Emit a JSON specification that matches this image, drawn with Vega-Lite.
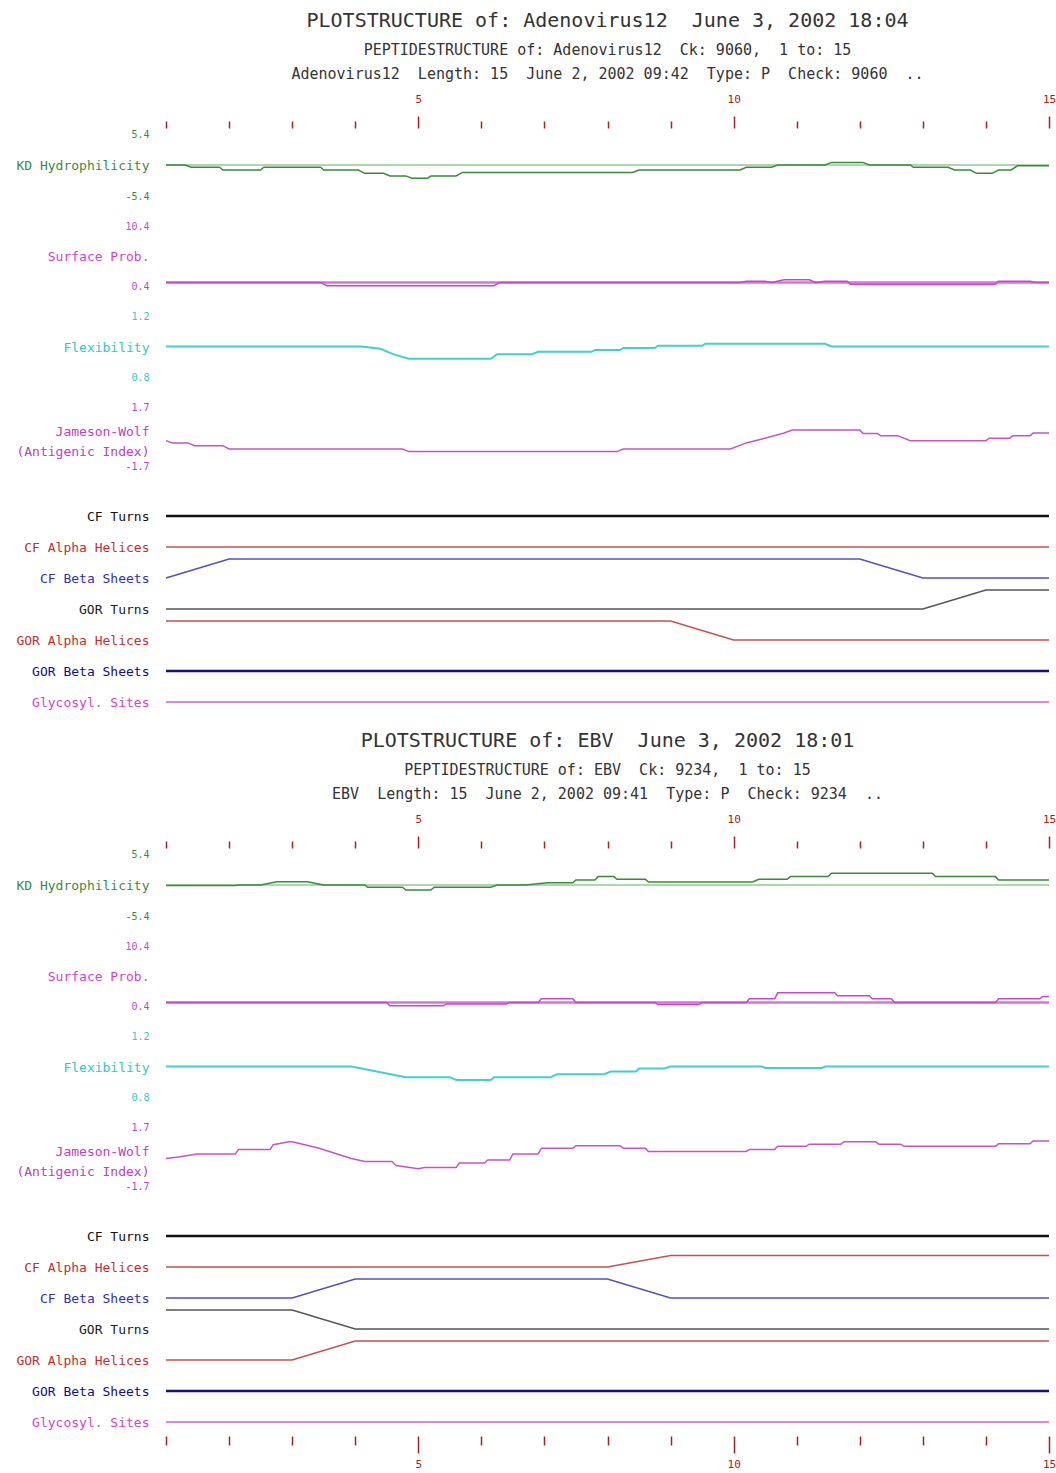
{
"$schema": "https://vega.github.io/schema/vega-lite/v6.json",
"background": "white",
"padding": {"left": 15, "top": 11, "right": 5, "bottom": 0},
"config": {
  "view": {"stroke": null},
  "axis": {"domain": false, "ticks": false, "tickSize": 0, "grid": false, "labelFont": "DejaVu Sans Mono", "titleFont": "DejaVu Sans Mono", "titleFontWeight": "normal", "titleAngle": 0, "titleAlign": "right", "titleBaseline": "middle", "titleX": -17, "labelPadding": 17, "titleFontSize": 13, "labelFontSize": 10, "titleLineHeight": 20},
  "title": {"font": "DejaVu Sans Mono", "fontSize": 20, "fontWeight": "normal", "color": "#333333", "anchor": "middle", "frame": "group", "subtitleFont": "DejaVu Sans Mono", "subtitleFontSize": 15, "subtitleColor": "#333333", "subtitleLineHeight": 24, "subtitlePadding": 12, "offset": 11}
},
"data": {"values": [
{"v":"A","t":"KD","k":"b","p":1,"y":0},{"v":"A","t":"KD","k":"b","p":15,"y":0},
{"v":"A","t":"KD","k":"d","p":1,"y":0},{"v":"A","t":"KD","k":"d","p":1.3,"y":0},{"v":"A","t":"KD","k":"d","p":1.4,"y":-0.4},{"v":"A","t":"KD","k":"d","p":1.85,"y":-0.4},{"v":"A","t":"KD","k":"d","p":1.9,"y":-0.87},{"v":"A","t":"KD","k":"d","p":2.5,"y":-0.87},{"v":"A","t":"KD","k":"d","p":2.55,"y":-0.4},{"v":"A","t":"KD","k":"d","p":3.45,"y":-0.4},{"v":"A","t":"KD","k":"d","p":3.5,"y":-0.87},{"v":"A","t":"KD","k":"d","p":4.05,"y":-0.87},{"v":"A","t":"KD","k":"d","p":4.15,"y":-1.45},{"v":"A","t":"KD","k":"d","p":4.45,"y":-1.45},{"v":"A","t":"KD","k":"d","p":4.55,"y":-1.9},{"v":"A","t":"KD","k":"d","p":4.8,"y":-1.9},{"v":"A","t":"KD","k":"d","p":4.9,"y":-2.3},{"v":"A","t":"KD","k":"d","p":5.15,"y":-2.3},{"v":"A","t":"KD","k":"d","p":5.2,"y":-1.9},{"v":"A","t":"KD","k":"d","p":5.6,"y":-1.9},{"v":"A","t":"KD","k":"d","p":5.7,"y":-1.3},{"v":"A","t":"KD","k":"d","p":8.4,"y":-1.3},{"v":"A","t":"KD","k":"d","p":8.5,"y":-0.87},{"v":"A","t":"KD","k":"d","p":10.1,"y":-0.87},{"v":"A","t":"KD","k":"d","p":10.2,"y":-0.4},{"v":"A","t":"KD","k":"d","p":10.6,"y":-0.4},{"v":"A","t":"KD","k":"d","p":10.7,"y":0},{"v":"A","t":"KD","k":"d","p":11.45,"y":0},{"v":"A","t":"KD","k":"d","p":11.55,"y":0.45},{"v":"A","t":"KD","k":"d","p":12.05,"y":0.45},{"v":"A","t":"KD","k":"d","p":12.15,"y":0},{"v":"A","t":"KD","k":"d","p":12.8,"y":0},{"v":"A","t":"KD","k":"d","p":12.85,"y":-0.4},{"v":"A","t":"KD","k":"d","p":13.4,"y":-0.4},{"v":"A","t":"KD","k":"d","p":13.5,"y":-0.87},{"v":"A","t":"KD","k":"d","p":13.75,"y":-0.87},{"v":"A","t":"KD","k":"d","p":13.85,"y":-1.45},{"v":"A","t":"KD","k":"d","p":14.1,"y":-1.45},{"v":"A","t":"KD","k":"d","p":14.2,"y":-0.87},{"v":"A","t":"KD","k":"d","p":14.4,"y":-0.87},{"v":"A","t":"KD","k":"d","p":14.5,"y":-0.15},{"v":"A","t":"KD","k":"d","p":15,"y":-0.15},
{"v":"A","t":"SP","k":"b","p":1,"y":1},{"v":"A","t":"SP","k":"b","p":15,"y":1},
{"v":"A","t":"SP","k":"d","p":1,"y":1},{"v":"A","t":"SP","k":"d","p":3.45,"y":1},{"v":"A","t":"SP","k":"d","p":3.55,"y":0.45},{"v":"A","t":"SP","k":"d","p":6.2,"y":0.45},{"v":"A","t":"SP","k":"d","p":6.3,"y":1},{"v":"A","t":"SP","k":"d","p":10.1,"y":1},{"v":"A","t":"SP","k":"d","p":10.2,"y":1.2},{"v":"A","t":"SP","k":"d","p":10.5,"y":1.2},{"v":"A","t":"SP","k":"d","p":10.6,"y":1},{"v":"A","t":"SP","k":"d","p":10.8,"y":1.45},{"v":"A","t":"SP","k":"d","p":11.2,"y":1.45},{"v":"A","t":"SP","k":"d","p":11.3,"y":1},{"v":"A","t":"SP","k":"d","p":11.45,"y":1.2},{"v":"A","t":"SP","k":"d","p":11.8,"y":1.2},{"v":"A","t":"SP","k":"d","p":11.85,"y":0.7},{"v":"A","t":"SP","k":"d","p":14.15,"y":0.7},{"v":"A","t":"SP","k":"d","p":14.2,"y":1.2},{"v":"A","t":"SP","k":"d","p":14.7,"y":1.2},{"v":"A","t":"SP","k":"d","p":14.8,"y":1},{"v":"A","t":"SP","k":"d","p":15,"y":1},
{"v":"A","t":"FL","k":"d","p":1,"y":1},{"v":"A","t":"FL","k":"d","p":4.1,"y":1},{"v":"A","t":"FL","k":"d","p":4.4,"y":0.985},{"v":"A","t":"FL","k":"d","p":4.6,"y":0.95},{"v":"A","t":"FL","k":"d","p":4.85,"y":0.92},{"v":"A","t":"FL","k":"d","p":6.15,"y":0.92},{"v":"A","t":"FL","k":"d","p":6.25,"y":0.95},{"v":"A","t":"FL","k":"d","p":6.8,"y":0.95},{"v":"A","t":"FL","k":"d","p":6.9,"y":0.965},{"v":"A","t":"FL","k":"d","p":7.75,"y":0.965},{"v":"A","t":"FL","k":"d","p":7.8,"y":0.977},{"v":"A","t":"FL","k":"d","p":8.2,"y":0.977},{"v":"A","t":"FL","k":"d","p":8.25,"y":0.99},{"v":"A","t":"FL","k":"d","p":8.75,"y":0.99},{"v":"A","t":"FL","k":"d","p":8.8,"y":1.005},{"v":"A","t":"FL","k":"d","p":9.5,"y":1.005},{"v":"A","t":"FL","k":"d","p":9.55,"y":1.018},{"v":"A","t":"FL","k":"d","p":11.45,"y":1.018},{"v":"A","t":"FL","k":"d","p":11.55,"y":1},{"v":"A","t":"FL","k":"d","p":15,"y":1},
{"v":"A","t":"JW","k":"d","p":1,"y":-0.24},{"v":"A","t":"JW","k":"d","p":1.1,"y":-0.37},{"v":"A","t":"JW","k":"d","p":1.35,"y":-0.37},{"v":"A","t":"JW","k":"d","p":1.45,"y":-0.53},{"v":"A","t":"JW","k":"d","p":1.9,"y":-0.53},{"v":"A","t":"JW","k":"d","p":2,"y":-0.72},{"v":"A","t":"JW","k":"d","p":4.75,"y":-0.72},{"v":"A","t":"JW","k":"d","p":4.85,"y":-0.87},{"v":"A","t":"JW","k":"d","p":8.15,"y":-0.87},{"v":"A","t":"JW","k":"d","p":8.25,"y":-0.72},{"v":"A","t":"JW","k":"d","p":9.95,"y":-0.72},{"v":"A","t":"JW","k":"d","p":10.2,"y":-0.37},{"v":"A","t":"JW","k":"d","p":10.45,"y":-0.14},{"v":"A","t":"JW","k":"d","p":10.8,"y":0.2},{"v":"A","t":"JW","k":"d","p":10.93,"y":0.37},{"v":"A","t":"JW","k":"d","p":12,"y":0.37},{"v":"A","t":"JW","k":"d","p":12.05,"y":0.18},{"v":"A","t":"JW","k":"d","p":12.28,"y":0.18},{"v":"A","t":"JW","k":"d","p":12.33,"y":0.05},{"v":"A","t":"JW","k":"d","p":12.6,"y":0.05},{"v":"A","t":"JW","k":"d","p":12.8,"y":-0.24},{"v":"A","t":"JW","k":"d","p":14,"y":-0.24},{"v":"A","t":"JW","k":"d","p":14.05,"y":-0.1},{"v":"A","t":"JW","k":"d","p":14.38,"y":-0.1},{"v":"A","t":"JW","k":"d","p":14.42,"y":0.05},{"v":"A","t":"JW","k":"d","p":14.7,"y":0.05},{"v":"A","t":"JW","k":"d","p":14.75,"y":0.2},{"v":"A","t":"JW","k":"d","p":15,"y":0.2},
{"v":"A","t":"CFT","k":"d","p":1,"y":0},{"v":"A","t":"CFT","k":"d","p":15,"y":0},
{"v":"A","t":"CFA","k":"d","p":1,"y":0},{"v":"A","t":"CFA","k":"d","p":15,"y":0},
{"v":"A","t":"CFB","k":"d","p":1,"y":0},{"v":"A","t":"CFB","k":"d","p":2,"y":1},{"v":"A","t":"CFB","k":"d","p":12,"y":1},{"v":"A","t":"CFB","k":"d","p":13,"y":0},{"v":"A","t":"CFB","k":"d","p":15,"y":0},
{"v":"A","t":"GT","k":"d","p":1,"y":0},{"v":"A","t":"GT","k":"d","p":13,"y":0},{"v":"A","t":"GT","k":"d","p":14,"y":1},{"v":"A","t":"GT","k":"d","p":15,"y":1},
{"v":"A","t":"GA","k":"d","p":1,"y":1},{"v":"A","t":"GA","k":"d","p":9,"y":1},{"v":"A","t":"GA","k":"d","p":10,"y":0},{"v":"A","t":"GA","k":"d","p":15,"y":0},
{"v":"A","t":"GB","k":"d","p":1,"y":0},{"v":"A","t":"GB","k":"d","p":15,"y":0},
{"v":"A","t":"GS","k":"d","p":1,"y":0},{"v":"A","t":"GS","k":"d","p":15,"y":0},
{"v":"E","t":"KD","k":"b","p":1,"y":0},{"v":"E","t":"KD","k":"b","p":15,"y":0},
{"v":"E","t":"KD","k":"d","p":1,"y":-0.1},{"v":"E","t":"KD","k":"d","p":2.1,"y":-0.1},{"v":"E","t":"KD","k":"d","p":2.15,"y":0},{"v":"E","t":"KD","k":"d","p":2.5,"y":0},{"v":"E","t":"KD","k":"d","p":2.76,"y":0.58},{"v":"E","t":"KD","k":"d","p":3.24,"y":0.58},{"v":"E","t":"KD","k":"d","p":3.5,"y":0},{"v":"E","t":"KD","k":"d","p":4.15,"y":0},{"v":"E","t":"KD","k":"d","p":4.2,"y":-0.4},{"v":"E","t":"KD","k":"d","p":4.75,"y":-0.4},{"v":"E","t":"KD","k":"d","p":4.8,"y":-0.88},{"v":"E","t":"KD","k":"d","p":5.2,"y":-0.88},{"v":"E","t":"KD","k":"d","p":5.25,"y":-0.4},{"v":"E","t":"KD","k":"d","p":6.15,"y":-0.4},{"v":"E","t":"KD","k":"d","p":6.25,"y":0},{"v":"E","t":"KD","k":"d","p":6.7,"y":0},{"v":"E","t":"KD","k":"d","p":7.05,"y":0.4},{"v":"E","t":"KD","k":"d","p":7.45,"y":0.4},{"v":"E","t":"KD","k":"d","p":7.5,"y":0.88},{"v":"E","t":"KD","k":"d","p":7.8,"y":0.88},{"v":"E","t":"KD","k":"d","p":7.85,"y":1.46},{"v":"E","t":"KD","k":"d","p":8.1,"y":1.46},{"v":"E","t":"KD","k":"d","p":8.15,"y":1},{"v":"E","t":"KD","k":"d","p":8.6,"y":1},{"v":"E","t":"KD","k":"d","p":8.65,"y":0.53},{"v":"E","t":"KD","k":"d","p":10.3,"y":0.53},{"v":"E","t":"KD","k":"d","p":10.4,"y":1},{"v":"E","t":"KD","k":"d","p":10.85,"y":1},{"v":"E","t":"KD","k":"d","p":10.9,"y":1.46},{"v":"E","t":"KD","k":"d","p":11.5,"y":1.46},{"v":"E","t":"KD","k":"d","p":11.55,"y":2.05},{"v":"E","t":"KD","k":"d","p":13.15,"y":2.05},{"v":"E","t":"KD","k":"d","p":13.2,"y":1.46},{"v":"E","t":"KD","k":"d","p":14.15,"y":1.46},{"v":"E","t":"KD","k":"d","p":14.2,"y":0.88},{"v":"E","t":"KD","k":"d","p":15,"y":0.88},
{"v":"E","t":"SP","k":"b","p":1,"y":1},{"v":"E","t":"SP","k":"b","p":15,"y":1},
{"v":"E","t":"SP","k":"d","p":1,"y":1},{"v":"E","t":"SP","k":"d","p":4.5,"y":1},{"v":"E","t":"SP","k":"d","p":4.55,"y":0.45},{"v":"E","t":"SP","k":"d","p":5.4,"y":0.45},{"v":"E","t":"SP","k":"d","p":5.45,"y":0.75},{"v":"E","t":"SP","k":"d","p":6.4,"y":0.75},{"v":"E","t":"SP","k":"d","p":6.45,"y":1},{"v":"E","t":"SP","k":"d","p":6.9,"y":1},{"v":"E","t":"SP","k":"d","p":6.95,"y":1.6},{"v":"E","t":"SP","k":"d","p":7.45,"y":1.6},{"v":"E","t":"SP","k":"d","p":7.5,"y":1},{"v":"E","t":"SP","k":"d","p":8.75,"y":1},{"v":"E","t":"SP","k":"d","p":8.8,"y":0.65},{"v":"E","t":"SP","k":"d","p":9.45,"y":0.65},{"v":"E","t":"SP","k":"d","p":9.5,"y":1},{"v":"E","t":"SP","k":"d","p":10.2,"y":1},{"v":"E","t":"SP","k":"d","p":10.25,"y":1.6},{"v":"E","t":"SP","k":"d","p":10.65,"y":1.6},{"v":"E","t":"SP","k":"d","p":10.7,"y":2.6},{"v":"E","t":"SP","k":"d","p":11.6,"y":2.6},{"v":"E","t":"SP","k":"d","p":11.65,"y":2.1},{"v":"E","t":"SP","k":"d","p":12.15,"y":2.1},{"v":"E","t":"SP","k":"d","p":12.2,"y":1.6},{"v":"E","t":"SP","k":"d","p":12.5,"y":1.6},{"v":"E","t":"SP","k":"d","p":12.55,"y":1},{"v":"E","t":"SP","k":"d","p":14.15,"y":1},{"v":"E","t":"SP","k":"d","p":14.2,"y":1.6},{"v":"E","t":"SP","k":"d","p":14.85,"y":1.6},{"v":"E","t":"SP","k":"d","p":14.9,"y":2},{"v":"E","t":"SP","k":"d","p":15,"y":2},
{"v":"E","t":"FL","k":"d","p":1,"y":1},{"v":"E","t":"FL","k":"d","p":3.94,"y":1},{"v":"E","t":"FL","k":"d","p":4.8,"y":0.93},{"v":"E","t":"FL","k":"d","p":5.5,"y":0.93},{"v":"E","t":"FL","k":"d","p":5.6,"y":0.912},{"v":"E","t":"FL","k":"d","p":6.15,"y":0.912},{"v":"E","t":"FL","k":"d","p":6.2,"y":0.93},{"v":"E","t":"FL","k":"d","p":7.1,"y":0.93},{"v":"E","t":"FL","k":"d","p":7.2,"y":0.95},{"v":"E","t":"FL","k":"d","p":7.95,"y":0.95},{"v":"E","t":"FL","k":"d","p":8.05,"y":0.967},{"v":"E","t":"FL","k":"d","p":8.45,"y":0.967},{"v":"E","t":"FL","k":"d","p":8.5,"y":0.987},{"v":"E","t":"FL","k":"d","p":8.9,"y":0.987},{"v":"E","t":"FL","k":"d","p":9,"y":1},{"v":"E","t":"FL","k":"d","p":10.45,"y":1},{"v":"E","t":"FL","k":"d","p":10.5,"y":0.99},{"v":"E","t":"FL","k":"d","p":11.4,"y":0.99},{"v":"E","t":"FL","k":"d","p":11.45,"y":1},{"v":"E","t":"FL","k":"d","p":15,"y":1},
{"v":"E","t":"JW","k":"d","p":1,"y":-0.11},{"v":"E","t":"JW","k":"d","p":1.2,"y":-0.03},{"v":"E","t":"JW","k":"d","p":1.5,"y":0.15},{"v":"E","t":"JW","k":"d","p":2.1,"y":0.15},{"v":"E","t":"JW","k":"d","p":2.15,"y":0.41},{"v":"E","t":"JW","k":"d","p":2.65,"y":0.41},{"v":"E","t":"JW","k":"d","p":2.7,"y":0.68},{"v":"E","t":"JW","k":"d","p":2.95,"y":0.85},{"v":"E","t":"JW","k":"d","p":3,"y":0.85},{"v":"E","t":"JW","k":"d","p":3.4,"y":0.5},{"v":"E","t":"JW","k":"d","p":3.94,"y":-0.11},{"v":"E","t":"JW","k":"d","p":4.15,"y":-0.29},{"v":"E","t":"JW","k":"d","p":4.58,"y":-0.29},{"v":"E","t":"JW","k":"d","p":4.65,"y":-0.52},{"v":"E","t":"JW","k":"d","p":5,"y":-0.7},{"v":"E","t":"JW","k":"d","p":5.1,"y":-0.64},{"v":"E","t":"JW","k":"d","p":5.6,"y":-0.64},{"v":"E","t":"JW","k":"d","p":5.65,"y":-0.38},{"v":"E","t":"JW","k":"d","p":6.05,"y":-0.38},{"v":"E","t":"JW","k":"d","p":6.1,"y":-0.2},{"v":"E","t":"JW","k":"d","p":6.45,"y":-0.2},{"v":"E","t":"JW","k":"d","p":6.5,"y":0.15},{"v":"E","t":"JW","k":"d","p":6.9,"y":0.15},{"v":"E","t":"JW","k":"d","p":6.95,"y":0.47},{"v":"E","t":"JW","k":"d","p":7.45,"y":0.47},{"v":"E","t":"JW","k":"d","p":7.5,"y":0.62},{"v":"E","t":"JW","k":"d","p":8.2,"y":0.62},{"v":"E","t":"JW","k":"d","p":8.25,"y":0.47},{"v":"E","t":"JW","k":"d","p":8.6,"y":0.47},{"v":"E","t":"JW","k":"d","p":8.65,"y":0.29},{"v":"E","t":"JW","k":"d","p":10.2,"y":0.29},{"v":"E","t":"JW","k":"d","p":10.25,"y":0.41},{"v":"E","t":"JW","k":"d","p":10.65,"y":0.41},{"v":"E","t":"JW","k":"d","p":10.7,"y":0.59},{"v":"E","t":"JW","k":"d","p":11.15,"y":0.59},{"v":"E","t":"JW","k":"d","p":11.2,"y":0.71},{"v":"E","t":"JW","k":"d","p":11.7,"y":0.71},{"v":"E","t":"JW","k":"d","p":11.75,"y":0.85},{"v":"E","t":"JW","k":"d","p":12.25,"y":0.85},{"v":"E","t":"JW","k":"d","p":12.3,"y":0.71},{"v":"E","t":"JW","k":"d","p":12.65,"y":0.71},{"v":"E","t":"JW","k":"d","p":12.7,"y":0.59},{"v":"E","t":"JW","k":"d","p":14.15,"y":0.59},{"v":"E","t":"JW","k":"d","p":14.2,"y":0.73},{"v":"E","t":"JW","k":"d","p":14.7,"y":0.73},{"v":"E","t":"JW","k":"d","p":14.75,"y":0.89},{"v":"E","t":"JW","k":"d","p":15,"y":0.89},
{"v":"E","t":"CFT","k":"d","p":1,"y":0},{"v":"E","t":"CFT","k":"d","p":15,"y":0},
{"v":"E","t":"CFA","k":"d","p":1,"y":0},{"v":"E","t":"CFA","k":"d","p":8,"y":0},{"v":"E","t":"CFA","k":"d","p":9,"y":0.6},{"v":"E","t":"CFA","k":"d","p":15,"y":0.6},
{"v":"E","t":"CFB","k":"d","p":1,"y":0},{"v":"E","t":"CFB","k":"d","p":3,"y":0},{"v":"E","t":"CFB","k":"d","p":4,"y":1},{"v":"E","t":"CFB","k":"d","p":8,"y":1},{"v":"E","t":"CFB","k":"d","p":9,"y":0},{"v":"E","t":"CFB","k":"d","p":15,"y":0},
{"v":"E","t":"GT","k":"d","p":1,"y":1},{"v":"E","t":"GT","k":"d","p":3,"y":1},{"v":"E","t":"GT","k":"d","p":4,"y":0},{"v":"E","t":"GT","k":"d","p":15,"y":0},
{"v":"E","t":"GA","k":"d","p":1,"y":0},{"v":"E","t":"GA","k":"d","p":3,"y":0},{"v":"E","t":"GA","k":"d","p":4,"y":1},{"v":"E","t":"GA","k":"d","p":15,"y":1},
{"v":"E","t":"GB","k":"d","p":1,"y":0},{"v":"E","t":"GB","k":"d","p":15,"y":0},
{"v":"E","t":"GS","k":"d","p":1,"y":0},{"v":"E","t":"GS","k":"d","p":15,"y":0}
]},
"spacing": 22,
"resolve": {"scale": {"x": "independent", "y": "independent"}},
"vconcat": [
 {"spacing": 26, "resolve": {"scale": {"x": "independent", "y": "independent"}}, "vconcat": [
  {"bounds": "flush", "spacing": 30, "resolve": {"scale": {"x": "independent", "y": "independent"}}, "vconcat": [
   {"width": 883, "height": 62,
    "title": {"text": "PLOTSTRUCTURE of: Adenovirus12 \u00a0June 3, 2002 18:04", "subtitle": ["PEPTIDESTRUCTURE of: Adenovirus12 \u00a0Ck: 9060, \u00a01 to: 15", "Adenovirus12 \u00a0Length: 15 \u00a0June 2, 2002 09:42 \u00a0Type: P \u00a0Check: 9060 \u00a0.."]},
    "transform": [{"filter": "datum.v === 'A' && datum.t === 'KD'"}],
    "encoding": {
      "x": {"field": "p", "type": "quantitative", "scale": {"domain": [1, 15], "nice": false, "zero": false}, "axis": {"orient": "top", "values": [1,2,3,4,5,6,7,8,9,10,11,12,13,14,15], "domain": false, "grid": false, "ticks": true, "offset": 6, "tickColor": "#a82020", "tickWidth": 1.5, "tickSize": {"condition": {"test": "datum.value % 5 === 0", "value": 12}, "value": 7}, "labelExpr": "datum.value % 5 === 0 ? datum.label : ''", "labelColor": "#a82020", "labelFontSize": 11, "labelPadding": 12, "labelFlush": false, "labelOverlap": false, "title": null}},
      "y": {"field": "y", "type": "quantitative", "scale": {"domain": [-5.4, 5.4], "nice": false, "zero": false}, "axis": {"values": [-5.4, 5.4], "labelExpr": "datum.value > 0 ? '5.4' : '-5.4'", "labelColor": "#3a8a3a", "title": "KD Hydrophilicity", "titleY": 31, "titleColor": "#3a8a3a"}}
    },
    "layer": [
      {"transform": [{"filter": "datum.k === 'b'"}], "mark": {"type": "line", "color": "#8fcc8f", "strokeWidth": 1.5}},
      {"transform": [{"filter": "datum.k === 'd'"}], "mark": {"type": "line", "color": "#3a8a3a", "strokeWidth": 1.5}}
    ]},
   {"width": 883, "height": 60,
    "transform": [{"filter": "datum.v === 'A' && datum.t === 'SP'"}],
    "encoding": {
      "x": {"field": "p", "type": "quantitative", "scale": {"domain": [1, 15], "nice": false, "zero": false}, "axis": null},
      "y": {"field": "y", "type": "quantitative", "scale": {"domain": [0.4, 10.4], "nice": false, "zero": false}, "axis": {"values": [0.4, 10.4], "format": ".1f", "labelColor": "#cc44cc", "title": "Surface Prob.", "titleY": 30, "titleColor": "#cc44cc"}}
    },
    "layer": [
      {"transform": [{"filter": "datum.k === 'b'"}], "mark": {"type": "line", "color": "#d673d6", "strokeWidth": 2.5}},
      {"transform": [{"filter": "datum.k === 'd'"}], "mark": {"type": "line", "color": "#cc44cc", "strokeWidth": 1.5}}
    ]},
   {"width": 883, "height": 61,
    "transform": [{"filter": "datum.v === 'A' && datum.t === 'FL'"}],
    "mark": {"type": "line", "color": "#40d0d0", "strokeWidth": 2},
    "encoding": {
      "x": {"field": "p", "type": "quantitative", "scale": {"domain": [1, 15], "nice": false, "zero": false}, "axis": null},
      "y": {"field": "y", "type": "quantitative", "scale": {"domain": [0.8, 1.2], "nice": false, "zero": false}, "axis": {"values": [0.8, 1.2], "format": ".1f", "labelColor": "#30c8c8", "title": "Flexibility", "titleY": 31, "titleColor": "#30c8c8"}}
    }},
   {"width": 883, "height": 59,
    "transform": [{"filter": "datum.v === 'A' && datum.t === 'JW'"}],
    "mark": {"type": "line", "color": "#c455c4", "strokeWidth": 1.5},
    "encoding": {
      "x": {"field": "p", "type": "quantitative", "scale": {"domain": [1, 15], "nice": false, "zero": false}, "axis": null},
      "y": {"field": "y", "type": "quantitative", "scale": {"domain": [-1.7, 1.7], "nice": false, "zero": false}, "axis": {"values": [-1.7, 1.7], "labelExpr": "datum.value > 0 ? '1.7' : '-1.7'", "labelColor": "#c040c0", "title": ["Jameson-Wolf", "(Antigenic Index)"], "titleY": 24, "titleColor": "#c040c0"}}
    }}
  ]},
  {"bounds": "flush", "spacing": 12, "resolve": {"scale": {"x": "independent", "y": "independent"}}, "vconcat": [
   {"width": 883, "height": 19, "transform": [{"filter": "datum.v === 'A' && datum.t === 'CFT'"}], "mark": {"type": "line", "color": "#111111", "strokeWidth": 2.5},
    "encoding": {"x": {"field": "p", "type": "quantitative", "scale": {"domain": [1, 15], "nice": false, "zero": false}, "axis": null}, "y": {"field": "y", "type": "quantitative", "scale": {"domain": [0, 1], "nice": false, "zero": false}, "axis": {"labels": false, "title": "CF Turns", "titleY": 19, "titleColor": "#111111"}}}},
   {"width": 883, "height": 19, "transform": [{"filter": "datum.v === 'A' && datum.t === 'CFA'"}], "mark": {"type": "line", "color": "#c85050", "strokeWidth": 1.5},
    "encoding": {"x": {"field": "p", "type": "quantitative", "scale": {"domain": [1, 15], "nice": false, "zero": false}, "axis": null}, "y": {"field": "y", "type": "quantitative", "scale": {"domain": [0, 1], "nice": false, "zero": false}, "axis": {"labels": false, "title": "CF Alpha Helices", "titleY": 19, "titleColor": "#c03030"}}}},
   {"width": 883, "height": 19, "transform": [{"filter": "datum.v === 'A' && datum.t === 'CFB'"}], "mark": {"type": "line", "color": "#5050c0", "strokeWidth": 1.5},
    "encoding": {"x": {"field": "p", "type": "quantitative", "scale": {"domain": [1, 15], "nice": false, "zero": false}, "axis": null}, "y": {"field": "y", "type": "quantitative", "scale": {"domain": [0, 1], "nice": false, "zero": false}, "axis": {"labels": false, "title": "CF Beta Sheets", "titleY": 19, "titleColor": "#3030b0"}}}},
   {"width": 883, "height": 19, "transform": [{"filter": "datum.v === 'A' && datum.t === 'GT'"}], "mark": {"type": "line", "color": "#555555", "strokeWidth": 1.5},
    "encoding": {"x": {"field": "p", "type": "quantitative", "scale": {"domain": [1, 15], "nice": false, "zero": false}, "axis": null}, "y": {"field": "y", "type": "quantitative", "scale": {"domain": [0, 1], "nice": false, "zero": false}, "axis": {"labels": false, "title": "GOR Turns", "titleY": 19, "titleColor": "#222222"}}}},
   {"width": 883, "height": 19, "transform": [{"filter": "datum.v === 'A' && datum.t === 'GA'"}], "mark": {"type": "line", "color": "#c85050", "strokeWidth": 1.5},
    "encoding": {"x": {"field": "p", "type": "quantitative", "scale": {"domain": [1, 15], "nice": false, "zero": false}, "axis": null}, "y": {"field": "y", "type": "quantitative", "scale": {"domain": [0, 1], "nice": false, "zero": false}, "axis": {"labels": false, "title": "GOR Alpha Helices", "titleY": 19, "titleColor": "#c03030"}}}},
   {"width": 883, "height": 19, "transform": [{"filter": "datum.v === 'A' && datum.t === 'GB'"}], "mark": {"type": "line", "color": "#101080", "strokeWidth": 2.5},
    "encoding": {"x": {"field": "p", "type": "quantitative", "scale": {"domain": [1, 15], "nice": false, "zero": false}, "axis": null}, "y": {"field": "y", "type": "quantitative", "scale": {"domain": [0, 1], "nice": false, "zero": false}, "axis": {"labels": false, "title": "GOR Beta Sheets", "titleY": 19, "titleColor": "#101080"}}}},
   {"width": 883, "height": 19, "transform": [{"filter": "datum.v === 'A' && datum.t === 'GS'"}], "mark": {"type": "line", "color": "#d060d0", "strokeWidth": 1.5},
    "encoding": {"x": {"field": "p", "type": "quantitative", "scale": {"domain": [1, 15], "nice": false, "zero": false}, "axis": null}, "y": {"field": "y", "type": "quantitative", "scale": {"domain": [0, 1], "nice": false, "zero": false}, "axis": {"labels": false, "title": "Glycosyl. Sites", "titleY": 19, "titleColor": "#cc44cc"}}}}
  ]}
 ]},
 {"spacing": 26, "resolve": {"scale": {"x": "independent", "y": "independent"}}, "vconcat": [
  {"bounds": "flush", "spacing": 30, "resolve": {"scale": {"x": "independent", "y": "independent"}}, "vconcat": [
   {"width": 883, "height": 62,
    "title": {"text": "PLOTSTRUCTURE of: EBV \u00a0June 3, 2002 18:01", "subtitle": ["PEPTIDESTRUCTURE of: EBV \u00a0Ck: 9234, \u00a01 to: 15", "EBV \u00a0Length: 15 \u00a0June 2, 2002 09:41 \u00a0Type: P \u00a0Check: 9234 \u00a0.."]},
    "transform": [{"filter": "datum.v === 'E' && datum.t === 'KD'"}],
    "encoding": {
      "x": {"field": "p", "type": "quantitative", "scale": {"domain": [1, 15], "nice": false, "zero": false}, "axis": {"orient": "top", "values": [1,2,3,4,5,6,7,8,9,10,11,12,13,14,15], "domain": false, "grid": false, "ticks": true, "offset": 6, "tickColor": "#a82020", "tickWidth": 1.5, "tickSize": {"condition": {"test": "datum.value % 5 === 0", "value": 12}, "value": 7}, "labelExpr": "datum.value % 5 === 0 ? datum.label : ''", "labelColor": "#a82020", "labelFontSize": 11, "labelPadding": 12, "labelFlush": false, "labelOverlap": false, "title": null}},
      "y": {"field": "y", "type": "quantitative", "scale": {"domain": [-5.4, 5.4], "nice": false, "zero": false}, "axis": {"values": [-5.4, 5.4], "labelExpr": "datum.value > 0 ? '5.4' : '-5.4'", "labelColor": "#3a8a3a", "title": "KD Hydrophilicity", "titleY": 31, "titleColor": "#3a8a3a"}}
    },
    "layer": [
      {"transform": [{"filter": "datum.k === 'b'"}], "mark": {"type": "line", "color": "#8fcc8f", "strokeWidth": 1.5}},
      {"transform": [{"filter": "datum.k === 'd'"}], "mark": {"type": "line", "color": "#3a8a3a", "strokeWidth": 1.5}}
    ]},
   {"width": 883, "height": 60,
    "transform": [{"filter": "datum.v === 'E' && datum.t === 'SP'"}],
    "encoding": {
      "x": {"field": "p", "type": "quantitative", "scale": {"domain": [1, 15], "nice": false, "zero": false}, "axis": null},
      "y": {"field": "y", "type": "quantitative", "scale": {"domain": [0.4, 10.4], "nice": false, "zero": false}, "axis": {"values": [0.4, 10.4], "format": ".1f", "labelColor": "#cc44cc", "title": "Surface Prob.", "titleY": 30, "titleColor": "#cc44cc"}}
    },
    "layer": [
      {"transform": [{"filter": "datum.k === 'b'"}], "mark": {"type": "line", "color": "#d673d6", "strokeWidth": 2.5}},
      {"transform": [{"filter": "datum.k === 'd'"}], "mark": {"type": "line", "color": "#cc44cc", "strokeWidth": 1.5}}
    ]},
   {"width": 883, "height": 61,
    "transform": [{"filter": "datum.v === 'E' && datum.t === 'FL'"}],
    "mark": {"type": "line", "color": "#40d0d0", "strokeWidth": 2},
    "encoding": {
      "x": {"field": "p", "type": "quantitative", "scale": {"domain": [1, 15], "nice": false, "zero": false}, "axis": null},
      "y": {"field": "y", "type": "quantitative", "scale": {"domain": [0.8, 1.2], "nice": false, "zero": false}, "axis": {"values": [0.8, 1.2], "format": ".1f", "labelColor": "#30c8c8", "title": "Flexibility", "titleY": 31, "titleColor": "#30c8c8"}}
    }},
   {"width": 883, "height": 59,
    "transform": [{"filter": "datum.v === 'E' && datum.t === 'JW'"}],
    "mark": {"type": "line", "color": "#c455c4", "strokeWidth": 1.5},
    "encoding": {
      "x": {"field": "p", "type": "quantitative", "scale": {"domain": [1, 15], "nice": false, "zero": false}, "axis": null},
      "y": {"field": "y", "type": "quantitative", "scale": {"domain": [-1.7, 1.7], "nice": false, "zero": false}, "axis": {"values": [-1.7, 1.7], "labelExpr": "datum.value > 0 ? '1.7' : '-1.7'", "labelColor": "#c040c0", "title": ["Jameson-Wolf", "(Antigenic Index)"], "titleY": 24, "titleColor": "#c040c0"}}
    }}
  ]},
  {"bounds": "flush", "spacing": 12, "resolve": {"scale": {"x": "independent", "y": "independent"}}, "vconcat": [
   {"width": 883, "height": 19, "transform": [{"filter": "datum.v === 'E' && datum.t === 'CFT'"}], "mark": {"type": "line", "color": "#111111", "strokeWidth": 2.5},
    "encoding": {"x": {"field": "p", "type": "quantitative", "scale": {"domain": [1, 15], "nice": false, "zero": false}, "axis": null}, "y": {"field": "y", "type": "quantitative", "scale": {"domain": [0, 1], "nice": false, "zero": false}, "axis": {"labels": false, "title": "CF Turns", "titleY": 19, "titleColor": "#111111"}}}},
   {"width": 883, "height": 19, "transform": [{"filter": "datum.v === 'E' && datum.t === 'CFA'"}], "mark": {"type": "line", "color": "#c85050", "strokeWidth": 1.5},
    "encoding": {"x": {"field": "p", "type": "quantitative", "scale": {"domain": [1, 15], "nice": false, "zero": false}, "axis": null}, "y": {"field": "y", "type": "quantitative", "scale": {"domain": [0, 1], "nice": false, "zero": false}, "axis": {"labels": false, "title": "CF Alpha Helices", "titleY": 19, "titleColor": "#c03030"}}}},
   {"width": 883, "height": 19, "transform": [{"filter": "datum.v === 'E' && datum.t === 'CFB'"}], "mark": {"type": "line", "color": "#5050c0", "strokeWidth": 1.5},
    "encoding": {"x": {"field": "p", "type": "quantitative", "scale": {"domain": [1, 15], "nice": false, "zero": false}, "axis": null}, "y": {"field": "y", "type": "quantitative", "scale": {"domain": [0, 1], "nice": false, "zero": false}, "axis": {"labels": false, "title": "CF Beta Sheets", "titleY": 19, "titleColor": "#3030b0"}}}},
   {"width": 883, "height": 19, "transform": [{"filter": "datum.v === 'E' && datum.t === 'GT'"}], "mark": {"type": "line", "color": "#555555", "strokeWidth": 1.5},
    "encoding": {"x": {"field": "p", "type": "quantitative", "scale": {"domain": [1, 15], "nice": false, "zero": false}, "axis": null}, "y": {"field": "y", "type": "quantitative", "scale": {"domain": [0, 1], "nice": false, "zero": false}, "axis": {"labels": false, "title": "GOR Turns", "titleY": 19, "titleColor": "#222222"}}}},
   {"width": 883, "height": 19, "transform": [{"filter": "datum.v === 'E' && datum.t === 'GA'"}], "mark": {"type": "line", "color": "#c85050", "strokeWidth": 1.5},
    "encoding": {"x": {"field": "p", "type": "quantitative", "scale": {"domain": [1, 15], "nice": false, "zero": false}, "axis": null}, "y": {"field": "y", "type": "quantitative", "scale": {"domain": [0, 1], "nice": false, "zero": false}, "axis": {"labels": false, "title": "GOR Alpha Helices", "titleY": 19, "titleColor": "#c03030"}}}},
   {"width": 883, "height": 19, "transform": [{"filter": "datum.v === 'E' && datum.t === 'GB'"}], "mark": {"type": "line", "color": "#101080", "strokeWidth": 2.5},
    "encoding": {"x": {"field": "p", "type": "quantitative", "scale": {"domain": [1, 15], "nice": false, "zero": false}, "axis": null}, "y": {"field": "y", "type": "quantitative", "scale": {"domain": [0, 1], "nice": false, "zero": false}, "axis": {"labels": false, "title": "GOR Beta Sheets", "titleY": 19, "titleColor": "#101080"}}}},
   {"width": 883, "height": 19, "transform": [{"filter": "datum.v === 'E' && datum.t === 'GS'"}], "mark": {"type": "line", "color": "#d060d0", "strokeWidth": 1.5},
    "encoding": {"x": {"field": "p", "type": "quantitative", "scale": {"domain": [1, 15], "nice": false, "zero": false}, "axis": {"orient": "bottom", "values": [1,2,3,4,5,6,7,8,9,10,11,12,13,14,15], "domain": false, "grid": false, "ticks": true, "offset": 14, "tickColor": "#a82020", "tickWidth": 1.5, "tickSize": {"condition": {"test": "datum.value % 5 === 0", "value": 17}, "value": 9}, "labelExpr": "datum.value % 5 === 0 ? datum.label : ''", "labelColor": "#a82020", "labelFontSize": 11, "labelPadding": 5, "labelFlush": false, "labelOverlap": false, "title": null}}, "y": {"field": "y", "type": "quantitative", "scale": {"domain": [0, 1], "nice": false, "zero": false}, "axis": {"labels": false, "title": "Glycosyl. Sites", "titleY": 19, "titleColor": "#cc44cc"}}}}
  ]}
 ]}
]
}
